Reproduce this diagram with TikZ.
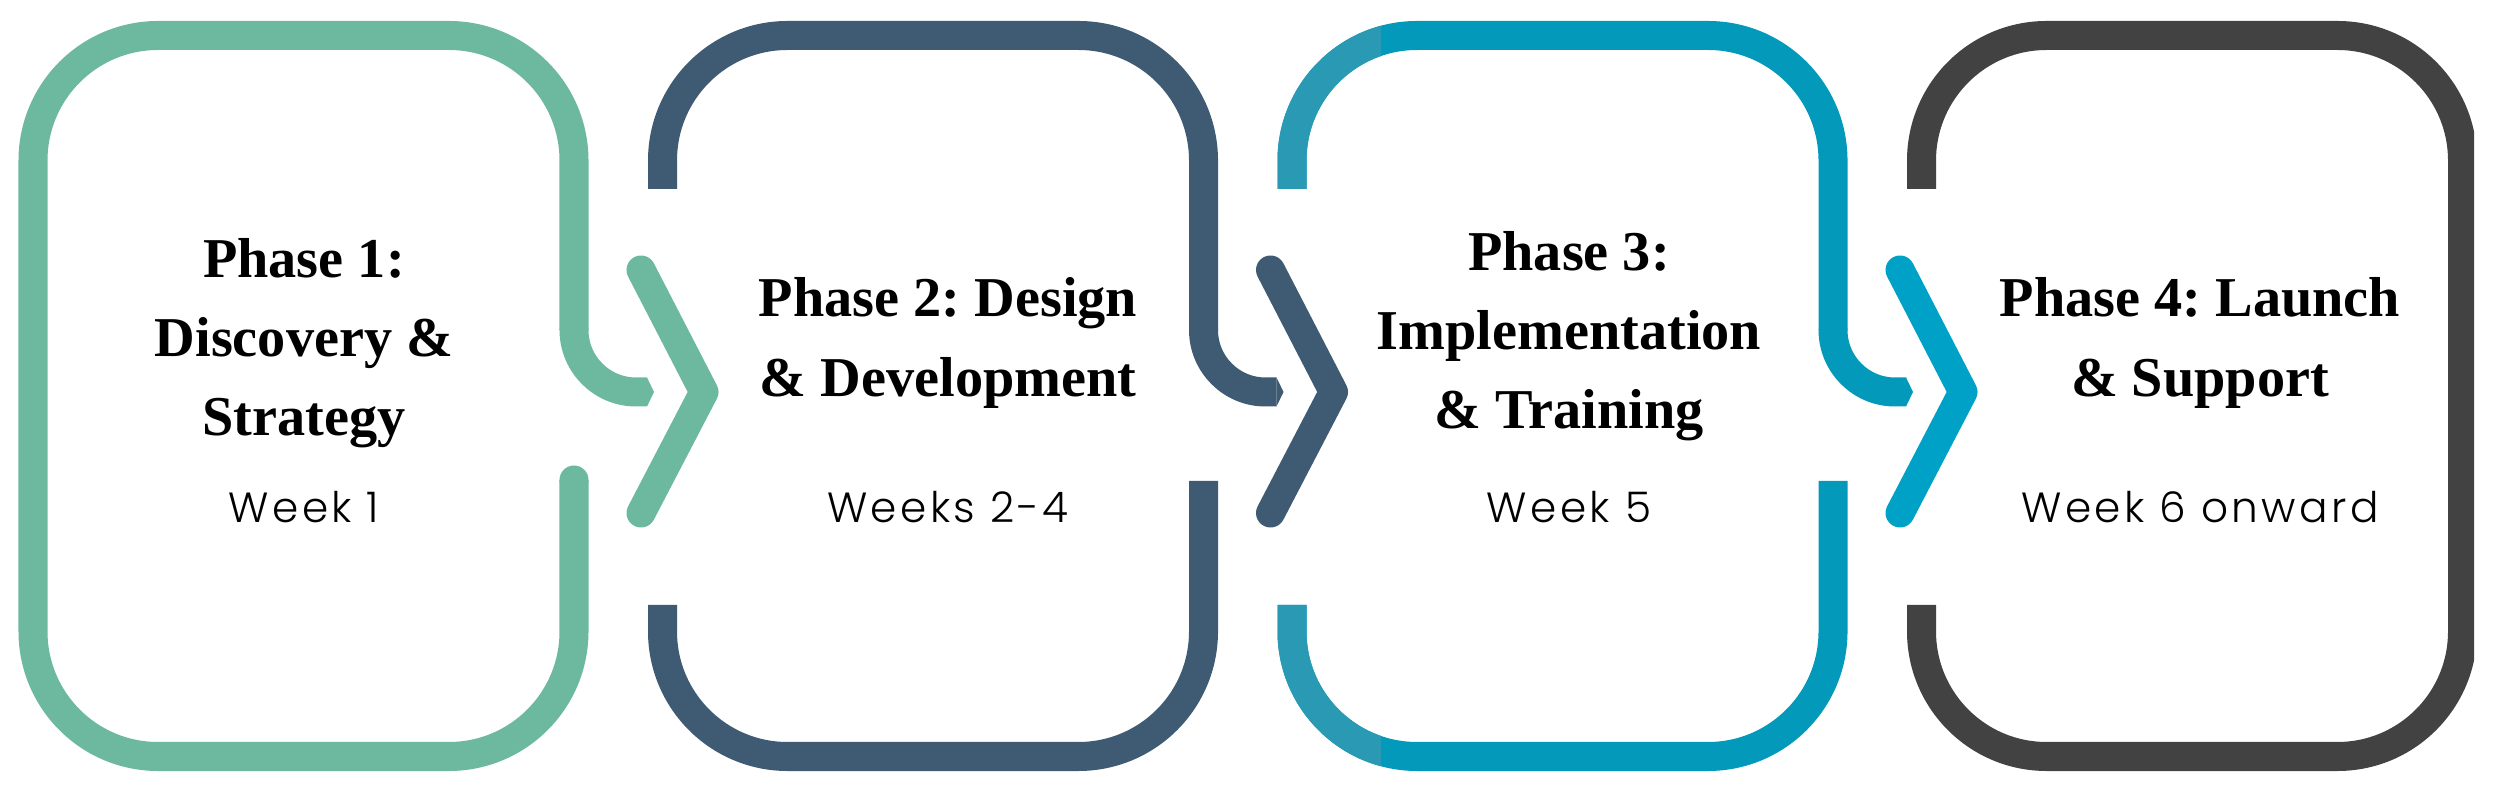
\documentclass[tikz,border=0pt]{standalone}
\usepackage{fontspec}
\setmainfont{Liberation Serif}
\newfontfamily\weekfont{Poppins Light}[LetterSpace=8]
\usepackage{tikz}
\frenchspacing
\definecolor{phasegreen}{HTML}{6DB9A0}
\definecolor{phaseslate}{HTML}{3F5B73}
\definecolor{phaseteal}{HTML}{0399BB}
\definecolor{phasetealL}{HTML}{2A9AB4}
\definecolor{phasetealC}{HTML}{00A1C7}
\definecolor{phasegrey}{HTML}{424242}
\tikzset{x=0.01cm, y=-0.01cm, % one unit is one pixel of the reference, y downwards
frame/.style={ % Sets the properties of the box outlines
line width=0.29cm, line cap=butt, line join=round, rounded corners=1.25cm},
hook/.style={ % The small curl that leads into the next chevron
line width=0.29cm, line cap=butt},
chevron/.style={ % The arrow heads between the boxes
line width=0.29cm, line cap=round, line join=round},
phasetitle/.style={font=\bfseries\fontsize{16}{22.5}\selectfont, align=center, inner sep=0pt},
weeks/.style={font=\weekfont\fontsize{12}{14}\selectfont, anchor=base, inner sep=0pt}}

\begin{document}
\begin{tikzpicture}
    \useasboundingbox (0,0) rectangle (2500,798);

    % Phase 1
    \draw[frame, phasegreen] (574,480) -- (574,756.5) -- (33,756.5) -- (33,35.5) -- (574,35.5) -- (574,330);
    \draw[hook, phasegreen] (574,329) -- (574,330) .. controls (574,364.2) and (601.8,392) .. (636,392) -- (647,392);
    \fill[phasegreen] (647,377.5) -- (654,392) -- (647,406.5) -- cycle;
    \fill[phasegreen] (574,480) circle (0.145cm);
    \draw[chevron, phasegreen] (641,270) -- (704,392) -- (641,513);

    % Phase 2
    \draw[frame, phaseslate] (662.5,189) -- (662.5,35.5) -- (1203.5,35.5) -- (1203.5,330);
    \draw[hook, phaseslate] (1203.5,329) -- (1203.5,330) .. controls (1203.5,364.2) and (1231.3,392) .. (1265.5,392) -- (1276.5,392);
    \draw[frame, phaseslate] (1203.5,481) -- (1203.5,756.5) -- (662.5,756.5) -- (662.5,605);
    \fill[phaseslate] (1276.5,377.5) -- (1283.5,392) -- (1276.5,406.5) -- cycle;
    \draw[chevron, phaseslate] (1270.5,270) -- (1333.5,392) -- (1270.5,513);

    % Phase 3
    \draw[frame, phaseteal] (1292,189) -- (1292,35.5) -- (1833,35.5) -- (1833,330);
    \draw[hook, phaseteal] (1833,329) -- (1833,330) .. controls (1833,364.2) and (1860.8,392) .. (1895,392) -- (1906,392);
    \draw[frame, phaseteal] (1833,481) -- (1833,756.5) -- (1292,756.5) -- (1292,605);
    \begin{scope}
        \clip (1250,0) rectangle (1381,798);
        \draw[frame, phasetealL] (1292,189) -- (1292,35.5) -- (1833,35.5);
        \draw[frame, phasetealL] (1833,756.5) -- (1292,756.5) -- (1292,605);
    \end{scope}
    \fill[phaseteal] (1906,377.5) -- (1913,392) -- (1906,406.5) -- cycle;
    \draw[chevron, phasetealC] (1900,270) -- (1963,392) -- (1900,513);

    % Phase 4
    \begin{scope}
        \clip (1850,0) rectangle (2474,798);
        \draw[frame, phasegrey] (1921.5,189) -- (1921.5,35.5) -- (2462.5,35.5) -- (2462.5,756.5)
            -- (1921.5,756.5) -- (1921.5,605);
    \end{scope}

    \node[phasetitle] (p1) at (304,343) {Phase 1:\\Discovery \&\\Strategy};
    \node[phasetitle] (p2) at (948,343) {Phase 2: Design\\\& Development};
    \node[phasetitle] (p3) at (1569,336) {Phase 3:\\Implementation\\\& Training};
    \node[phasetitle] (p4) at (2200,343) {Phase 4: Launch\\\& Support};

    \node[weeks] (w1) at (304,523) {Week 1};
    \node[weeks] (w2) at (948,523) {Weeks 2-4};
    \node[weeks] (w3) at (1569,523) {Week 5};
    \node[weeks] (w4) at (2200,523) {Week 6 onward};

\end{tikzpicture}
\end{document}
